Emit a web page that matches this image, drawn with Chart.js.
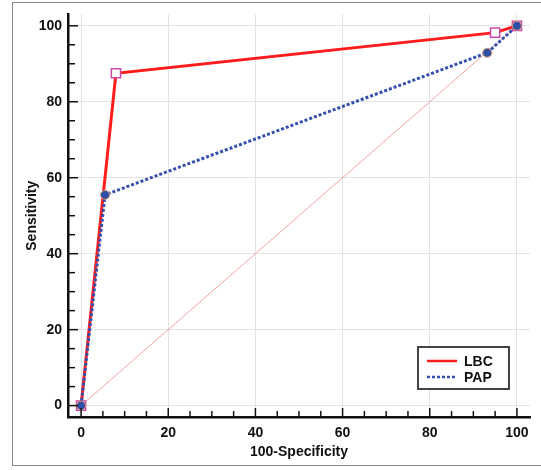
<!DOCTYPE html>
<html>
<head>
<meta charset="utf-8">
<script src="https://cdn.jsdelivr.net/npm/chart.js@4/dist/chart.umd.min.js"></script>
<style>
  html, body { margin: 0; padding: 0; background: #fff; }
  #wrap { position: relative; width: 541px; height: 470px; overflow: hidden; }
  #frame { position: absolute; left: 12px; top: 2px; width: 600px; height: 464px; border: 1.5px solid #8a8a8a; box-sizing: border-box; }
  #c { position: absolute; left: 0; top: 0; }
</style>
</head>
<body>
<div id="wrap">
  <div id="frame"></div>
  <canvas id="c" width="541" height="470"></canvas>
</div>
<script>
// ---- data ----
const seriesNames = ["LBC", "PAP"];
const lbcX = [0, 8, 95, 100];
const lbcY = [0, 87.5, 98.2, 100];
const papX = [0, 5.5, 93.2, 100];
const papY = [0, 55.5, 92.9, 100];
const diagX = [0, 100];
const diagY = [0, 100];
const tickValues = [0, 20, 40, 60, 80, 100];
const minorTicks = [0, 5, 10, 15, 20, 25, 30, 35, 40, 45, 50, 55, 60, 65, 70, 75, 80, 85, 90, 95, 100];
const xTitle = "100-Specificity";
const yTitle = "Sensitivity";

const toPts = (xs, ys) => xs.map((x, i) => ({ x: x, y: ys[i] }));
const FONT = "'Liberation Sans', Arial, Helvetica, sans-serif";

const innerTicks = {
  id: 'innerTicks',
  afterDraw(chart) {
    const ctx = chart.ctx;
    const xs = chart.scales.x, ys = chart.scales.y;
    const a = chart.chartArea;
    ctx.save();
    ctx.strokeStyle = '#111';
    ctx.lineWidth = 1.5;
    minorTicks.forEach(v => {
      const major = tickValues.includes(v);
      const px = xs.getPixelForValue(v);
      ctx.beginPath();
      ctx.moveTo(px, a.bottom);
      ctx.lineTo(px, a.bottom - (major ? 9 : 6));
      ctx.stroke();
      const py = ys.getPixelForValue(v);
      ctx.beginPath();
      ctx.moveTo(a.left, py);
      ctx.lineTo(a.left + (major ? 10 : 7), py);
      ctx.stroke();
    });
    ctx.restore();
  }
};

const boxLegend = {
  id: 'boxLegend',
  afterDraw(chart) {
    const ctx = chart.ctx;
    const a = chart.chartArea;
    const bx = a.right - 112, by = a.bottom - 70, bw = 91, bh = 42;
    ctx.save();
    ctx.fillStyle = '#fff';
    ctx.fillRect(bx, by, bw, bh);
    ctx.strokeStyle = '#444';
    ctx.lineWidth = 2;
    ctx.strokeRect(bx, by, bw, bh);
    const items = chart.data.datasets.filter(d => seriesNames.includes(d.label));
    items.forEach((d, i) => {
      const y = by + 14 + i * 16;
      ctx.beginPath();
      ctx.strokeStyle = d.borderColor;
      ctx.lineWidth = 2.5;
      ctx.setLineDash(d.borderDash || []);
      ctx.moveTo(bx + 9, y);
      ctx.lineTo(bx + 39, y);
      ctx.stroke();
      ctx.setLineDash([]);
      ctx.fillStyle = '#111';
      ctx.font = 'bold 14px ' + FONT;
      ctx.textBaseline = 'middle';
      ctx.textAlign = 'left';
      ctx.fillText(d.label, bx + 46, y + 1);
    });
    ctx.restore();
  }
};

new Chart(document.getElementById('c'), {
  type: 'line',
  data: {
    datasets: [
      {
        label: 'diag',
        data: toPts(diagX, diagY),
        borderColor: '#f0a4a4',
        borderWidth: 1,
        pointRadius: 0,
        order: 3
      },
      {
        label: seriesNames[0],
        data: toPts(lbcX, lbcY),
        borderColor: '#ff1c1c',
        borderWidth: 3,
        pointStyle: 'rect',
        pointRadius: 6.5,
        pointBackgroundColor: '#ffffff',
        pointBorderColor: '#c84aa8',
        pointBorderWidth: 1.5,
        order: 2
      },
      {
        label: seriesNames[1],
        data: toPts(papX, papY),
        borderColor: '#3450ae',
        borderWidth: 3,
        borderDash: [3, 2],
        pointStyle: 'circle',
        pointRadius: 4.5,
        pointBackgroundColor: '#2f4ea6',
        pointBorderColor: '#d89a70',
        pointBorderWidth: 1,
        order: 1
      }
    ]
  },
  options: {
    responsive: false,
    animation: false,
    layout: { padding: { left: 0, top: 13, right: 11, bottom: 0 } },
    plugins: { legend: { display: false }, tooltip: { enabled: false } },
    elements: { line: { tension: 0 } },
    scales: {
      x: {
        type: 'linear',
        min: -3, max: 103,
        afterBuildTicks: s => { s.ticks = tickValues.map(v => ({ value: v })); },
        afterFit: s => { s.height = 53; },
        grid: { color: '#e3e3e3', lineWidth: 1, drawTicks: false },
        border: { display: true, color: '#111', width: 2.5 },
        ticks: { padding: 8, color: '#111', font: { family: FONT, size: 14, weight: 'bold' }, maxRotation: 0 },
        title: { display: true, text: xTitle, color: '#111', padding: { top: 0, bottom: 9.6 }, font: { family: FONT, size: 14, weight: 'bold' } }
      },
      y: {
        type: 'linear',
        min: -3, max: 103,
        afterBuildTicks: s => { s.ticks = tickValues.map(v => ({ value: v })); },
        afterFit: s => { s.width = 68; },
        grid: { color: '#e3e3e3', lineWidth: 1, drawTicks: false },
        border: { display: true, color: '#111', width: 2.5 },
        ticks: { padding: 6, color: '#111', font: { family: FONT, size: 14, weight: 'bold' } },
        title: { display: true, text: yTitle, color: '#111', padding: { top: 23.6, bottom: 0 }, font: { family: FONT, size: 14, weight: 'bold' } }
      }
    }
  },
  plugins: [innerTicks, boxLegend]
});
</script>
</body>
</html>
